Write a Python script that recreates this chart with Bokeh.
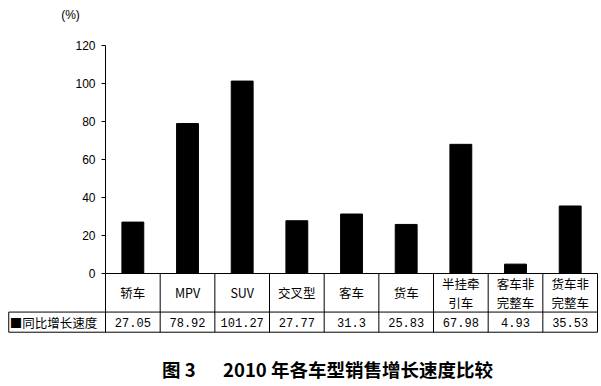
from bokeh.plotting import figure
from bokeh.models import Range1d, FixedTicker
from bokeh.core.properties import value
from bokeh.embed import file_html
from bokeh.resources import INLINE

categories = ["轿车", "MPV", "SUV", "交叉型", "客车", "货车",
              "半挂牵\n引车", "客车非\n完整车", "货车非\n完整车"]
growth = [27.05, 78.92, 101.27, 27.77, 31.3, 25.83, 67.98, 4.93, 35.53]
value_labels = ["27.05", "78.92", "101.27", "27.77", "31.3", "25.83",
                "67.98", "4.93", "35.53"]
y_ticks = [0, 20, 40, 60, 80, 100, 120]
series_name = "■同比增长速度"
unit_label = "(%)"
title_a = "图 3"
title_b = "2010 年各车型销售增长速度比较"

CJK = "Noto Sans CJK SC"
MONO = "Liberation Mono"
SANS = "Liberation Sans"

n = len(categories)
X0, X1 = -1.921, 9.073
p = figure(width=601, height=386, output_backend="svg", toolbar_location=None,
           x_range=Range1d(X0, X1), y_range=Range1d(-59.47, 143.68),
           x_axis_location=None, min_border=0, outline_line_color=None)
p.grid.visible = False
p.background_fill_color = "white"

ya = p.yaxis[0]
ya.fixed_location = 0
ya.bounds = (0, 120)
ya.ticker = FixedTicker(ticks=y_ticks)
ya.minor_tick_line_color = None
ya.major_tick_out = 4
ya.major_tick_in = 0
ya.major_label_standoff = 6
ya.axis_line_color = "black"
ya.major_tick_line_color = "black"
ya.major_label_text_font = SANS
ya.major_label_text_font_size = "12px"
ya.major_label_text_color = "black"

xs = [i + 0.5 for i in range(n)]
p.vbar(x=xs, top=growth, bottom=0, width=0.4, fill_color="black", line_color="black")

# table geometry
r1 = -20.3
r2 = -30.9
xl = -1.77
sx0, sy0, sx1, sy1 = [], [], [], []
for (a, b, y) in [(0, n, 0), (xl, n, r1), (xl, n, r2)]:
    sx0.append(a); sx1.append(b); sy0.append(y); sy1.append(y)
for i in range(n + 1):
    sx0.append(i); sx1.append(i); sy0.append(0); sy1.append(r2)
sx0.append(xl); sx1.append(xl); sy0.append(r1); sy1.append(r2)
p.segment(x0=sx0, y0=sy0, x1=sx1, y1=sy1, line_color="black", line_width=1)

# category labels
p.text(x=xs, y=[r1 / 2] * n, text=categories, text_align="center",
       text_baseline="middle", text_font_size="12.5px", text_color="black",
       text_font=value(CJK), text_line_height=1.0)
# series values
p.text(x=xs, y=[(r1 + r2) / 2] * n, text=value_labels, text_align="center",
       text_baseline="middle", text_font_size="12px", text_color="black",
       text_font=value(MONO))
p.text(x=[xl + 0.02], y=[(r1 + r2) / 2], text=[series_name], text_align="left",
       text_baseline="middle", text_font_size="12.5px", text_color="black",
       text_font=value(CJK))

# unit label
p.text(x=[-0.64], y=[135.8], text=[unit_label], text_align="center",
       text_baseline="middle", text_font_size="12px", text_color="black",
       text_font=value(SANS))

# title
p.text(x=[1.65], y=[-50], text=[title_a], text_align="right",
       text_baseline="middle", text_font_size="18.5px", text_color="black",
       text_font=value(CJK), text_font_style="bold")
p.text(x=[2.15], y=[-50], text=[title_b], text_align="left",
       text_baseline="middle", text_font_size="18.5px", text_color="black",
       text_font=value(CJK), text_font_style="bold")

open("out.html", "w").write(file_html(p, INLINE))
